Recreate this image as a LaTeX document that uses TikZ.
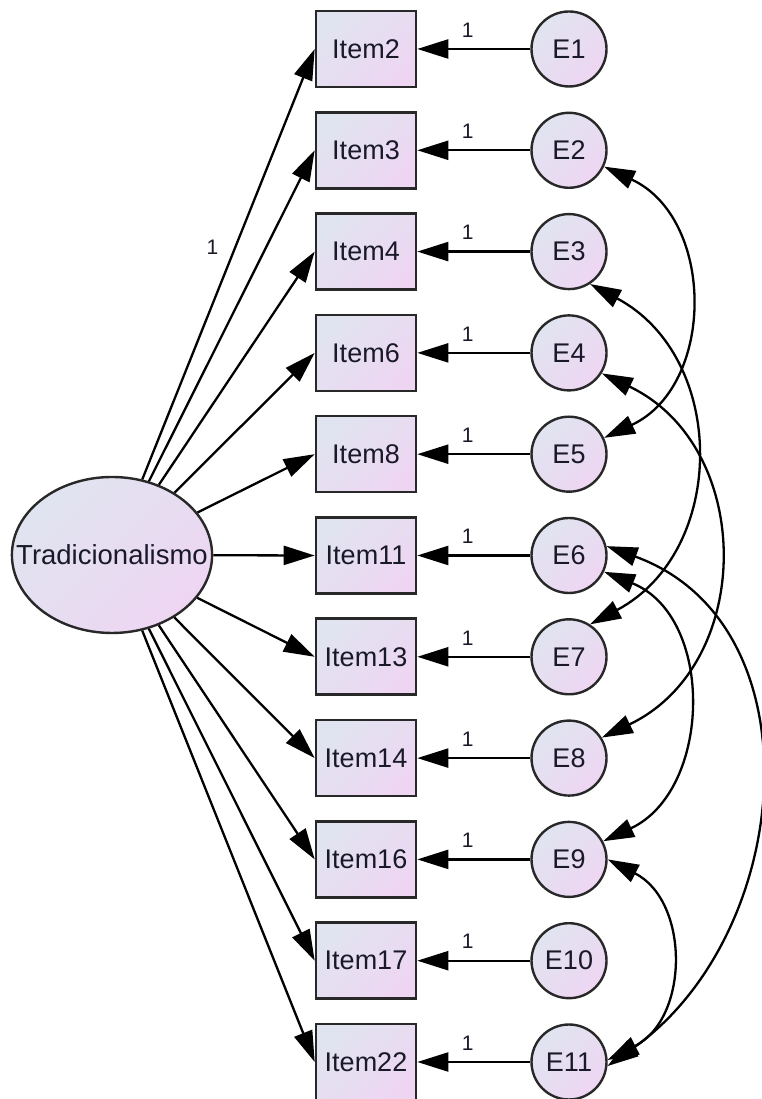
\documentclass[tikz,border=0pt]{standalone}
\usepackage{fontspec}
\setmainfont{Liberation Sans}
\usetikzlibrary{arrows.meta,shapes.geometric}
\definecolor{fillA}{RGB}{224,228,240}
\definecolor{fillB}{RGB}{238,214,242}
\definecolor{edgec}{RGB}{40,40,40}
\definecolor{txtc}{RGB}{25,25,40}
\tikzset{
  x=1pt, y=1pt,
  grad/.style={top color=fillA, bottom color=fillB, shading angle=45},
  obs/.style={draw=edgec, line width=2.6pt, grad, minimum width=100pt, minimum height=76pt, inner sep=0pt, text=txtc, font=\fontsize{27}{30}\selectfont},
  err/.style={circle, draw=edgec, line width=2.4pt, grad, minimum size=75pt, inner sep=0pt, text=txtc, font=\fontsize{27}{30}\selectfont},
  lat/.style={ellipse, draw=edgec, line width=2.4pt, grad, minimum width=200pt, minimum height=156pt, inner xsep=-25pt, inner ysep=0pt, text=txtc, font=\fontsize{27.5}{30}\selectfont},
  reg/.style={line width=2.3pt, -{Triangle[length=31pt,width=19pt]}},
  cov/.style={line width=2.3pt, {Triangle[length=31pt,width=19pt]}-{Triangle[length=31pt,width=19pt]}},
  wlab/.style={font=\fontsize{21}{23}\selectfont, inner sep=1pt, text=txtc}
}
\begin{document}
\begin{tikzpicture}
\useasboundingbox (0,0) rectangle (761,1099);
% latent
\node[lat] (T) at (112,544) {Tradicionalismo};
% items and errors
\foreach \it/\e [count=\i from 0] in {2/1,3/2,4/3,6/4,8/5,11/6,13/7,14/8,16/9,17/10,22/11}{
  \node[obs] (Item\it) at (366,{1050-101.3*\i}) {Item\it};
  \node[err] (E\e) at (569,{1050-101.3*\i}) {E\e};
  \draw[reg] (E\e) -- (Item\it) node[wlab, midway, yshift=19pt, xshift=-6pt] (w\e) {1};
}
% regression paths
\draw[reg] (T) -- (Item2.west) node[wlab, pos=0.54, xshift=-23pt] (l2) {1};
\foreach \it in {3,4,6,8,11,13,14,16,17,22}{
  \draw[reg] (T) -- (Item\it.west);
}
% covariances
\draw[cov] (E2.-25) .. controls +(-25:123) and +(25:123) .. (E5.25);
\draw[cov] (E3.-57) .. controls +(-28:156) and +(28:156) .. (E7.57);
\draw[cov] (E4.-32) .. controls +(-25.5:170) and +(25.5:170) .. (E8.32);
\draw[cov] (E6.-25) .. controls +(-22:120) and +(25:120) .. (E9.28);
\draw[cov] (E6.14) .. controls +(-20:228) and +(35:228) .. (E11.-6);
\draw[cov] (E9.0) .. controls +(-27:92) and +(27:92) .. (E11.3);
\end{tikzpicture}
\end{document}
